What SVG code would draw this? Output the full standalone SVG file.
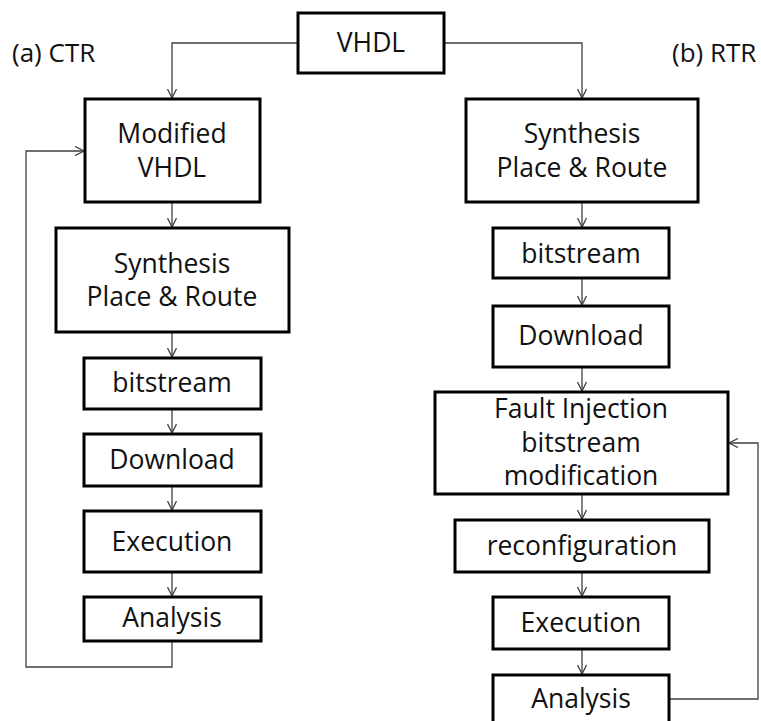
<svg xmlns="http://www.w3.org/2000/svg" width="761" height="721" viewBox="0 0 761 721">
<defs>
<style>
.box{fill:#fff;stroke:#000;stroke-width:3}
.t{font-family:"Open Sans","Liberation Sans",sans-serif;font-size:26.5px;fill:#111;text-anchor:middle}
.lbl{font-family:"Open Sans","Liberation Sans",sans-serif;font-size:26px;fill:#111}
.c{fill:none;stroke:#404040;stroke-width:1.3}
</style>
<marker id="arr" markerUnits="userSpaceOnUse" viewBox="0 0 10 10" markerWidth="10" markerHeight="10" refX="10" refY="5" orient="auto">
<path d="M1,0.5 L10,5 L1,9.5" fill="none" stroke="#404040" stroke-width="1.3"/>
</marker>
</defs>
<rect width="761" height="721" fill="#fff"/>
<text class="lbl" x="12" y="62">(a) CTR</text>
<text class="lbl" x="672" y="62">(b) RTR</text>
<g id="connectors">
<path class="c" d="M298,43 H172 V98" marker-end="url(#arr)"/>
<path class="c" d="M444,43 H582 V98" marker-end="url(#arr)"/>
<path class="c" d="M172,202 V227" marker-end="url(#arr)"/>
<path class="c" d="M172,332 V357" marker-end="url(#arr)"/>
<path class="c" d="M172,409 V433" marker-end="url(#arr)"/>
<path class="c" d="M172,486 V510" marker-end="url(#arr)"/>
<path class="c" d="M172,572 V596" marker-end="url(#arr)"/>
<path class="c" d="M172,641 V667 H26 V151 H84" marker-end="url(#arr)"/>
<path class="c" d="M582,202 V227" marker-end="url(#arr)"/>
<path class="c" d="M582,278 V305" marker-end="url(#arr)"/>
<path class="c" d="M582,367 V391" marker-end="url(#arr)"/>
<path class="c" d="M582,494 V519" marker-end="url(#arr)"/>
<path class="c" d="M582,572 V596" marker-end="url(#arr)"/>
<path class="c" d="M582,649 V674" marker-end="url(#arr)"/>
<path class="c" d="M669,699 H758 V443 H729" marker-end="url(#arr)"/>
</g>
<g id="vhdl"><rect class="box" x="298" y="13" width="146" height="60"/><text class="t" x="371" y="52">VHDL</text></g>
<g id="ctr-modified"><rect class="box" x="85" y="99" width="175" height="103"/><text class="t" x="172" y="143">Modified</text><text class="t" x="172" y="177">VHDL</text></g>
<g id="ctr-synthesis"><rect class="box" x="56" y="228" width="233" height="104"/><text class="t" x="172" y="273">Synthesis</text><text class="t" x="172" y="306">Place &amp; Route</text></g>
<g id="ctr-bitstream"><rect class="box" x="84" y="358" width="177" height="51"/><text class="t" x="172" y="392">bitstream</text></g>
<g id="ctr-download"><rect class="box" x="84" y="434" width="177" height="52"/><text class="t" x="172" y="469">Download</text></g>
<g id="ctr-execution"><rect class="box" x="84" y="511" width="177" height="61"/><text class="t" x="172" y="551">Execution</text></g>
<g id="ctr-analysis"><rect class="box" x="84" y="597" width="177" height="44"/><text class="t" x="172" y="627">Analysis</text></g>
<g id="rtr-synthesis"><rect class="box" x="466" y="99" width="232" height="103"/><text class="t" x="582" y="143">Synthesis</text><text class="t" x="582" y="177">Place &amp; Route</text></g>
<g id="rtr-bitstream"><rect class="box" x="493" y="228" width="176" height="50"/><text class="t" x="581" y="263">bitstream</text></g>
<g id="rtr-download"><rect class="box" x="493" y="306" width="176" height="61"/><text class="t" x="581" y="345">Download</text></g>
<g id="rtr-fault"><rect class="box" x="435" y="392" width="293" height="102"/><text class="t" x="581" y="418">Fault Injection</text><text class="t" x="581" y="452">bitstream</text><text class="t" x="581" y="485">modification</text></g>
<g id="rtr-reconfiguration"><rect class="box" x="455" y="520" width="254" height="52"/><text class="t" x="582" y="555">reconfiguration</text></g>
<g id="rtr-execution"><rect class="box" x="493" y="597" width="176" height="52"/><text class="t" x="581" y="632">Execution</text></g>
<g id="rtr-analysis"><rect class="box" x="493" y="675" width="176" height="60"/><text class="t" x="581" y="708">Analysis</text></g>
</svg>
